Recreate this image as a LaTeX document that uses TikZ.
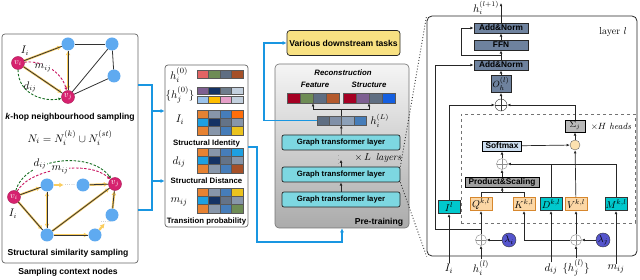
\documentclass[tikz,border=0pt]{standalone}
\usepackage{fontspec}
\usepackage{amsmath, amssymb}
\usetikzlibrary{arrows.meta, positioning, calc}
\newfontfamily\sfarial{Liberation Sans}

\definecolor{vmag}{RGB}{214, 34, 110}
\definecolor{nodeblue}{RGB}{95, 170, 240}
\definecolor{hopyel}{RGB}{250, 205, 95}
\definecolor{dmag}{RGB}{200, 20, 95}
\definecolor{dgreen}{RGB}{25, 110, 35}
\definecolor{linkblue}{RGB}{25, 150, 225}
\definecolor{gtlcyan}{RGB}{125, 215, 225}
\definecolor{taskyel}{RGB}{248, 225, 130}
\definecolor{anblue}{RGB}{110, 130, 158}
\definecolor{qkvfill}{RGB}{252, 215, 165}
\definecolor{qkvline}{RGB}{215, 135, 45}
\definecolor{dmcyan}{RGB}{0, 200, 205}
\definecolor{psgray}{RGB}{160, 160, 160}
\definecolor{softblue}{RGB}{205, 222, 240}
\definecolor{sigray}{RGB}{185, 185, 185}
\definecolor{dotfill}{RGB}{252, 225, 175}
\definecolor{lamblue}{RGB}{85, 85, 205}
% cell colours
\definecolor{cOr}{RGB}{230, 130, 50}
\definecolor{cGy}{RGB}{135, 150, 170}
\definecolor{cBl}{RGB}{70, 125, 185}
\definecolor{cOb}{RGB}{255, 110, 10}
\definecolor{cCy}{RGB}{30, 160, 225}
\definecolor{cNv}{RGB}{20, 50, 100}
\definecolor{cSl}{RGB}{100, 115, 135}
\definecolor{cYe}{RGB}{235, 195, 30}
\definecolor{cBr}{RGB}{165, 80, 40}
\definecolor{cGr}{RGB}{110, 140, 85}
\definecolor{hRd}{RGB}{225, 100, 100}
\definecolor{hSl}{RGB}{95, 110, 130}
\definecolor{hPu}{RGB}{125, 95, 145}
\definecolor{jSl}{RGB}{110, 125, 140}
\definecolor{jLt}{RGB}{195, 208, 222}
\definecolor{jLb}{RGB}{155, 195, 235}
\definecolor{jGd}{RGB}{255, 190, 0}
\definecolor{jPk}{RGB}{230, 160, 200}
\definecolor{fRd}{RGB}{165, 0, 35}
\definecolor{fOr}{RGB}{180, 90, 45}
\definecolor{sBl}{RGB}{20, 95, 225}
\definecolor{lSl}{RGB}{128, 144, 168}
\definecolor{lLt}{RGB}{140, 160, 184}

\newcommand{\cellrow}[5]{% x, y, cell width, cell height, colours
  \foreach \cc [count=\k from 0] in {#5}{%
    \filldraw[draw=black!65, line width=0.3pt, fill=\cc] ({#1+\k*#3},#2) rectangle ++(#3,#4);}}

\tikzset{
  vnode/.style={circle, fill=vmag, draw=vmag!80!black, minimum size=13pt, inner sep=0pt, text=white, font=\fontsize{9}{9}\selectfont},
  bnode/.style={circle, fill=nodeblue, minimum size=13pt, inner sep=0pt},
  gedge/.style={draw=black!80, line width=0.8pt},
  hop/.style={draw=hopyel, line width=2.2pt, -{Latex[length=4.5pt,width=5pt]}},
  hopboth/.style={draw=hopyel, line width=2.2pt, {Latex[length=4.5pt,width=5pt]}-{Latex[length=4.5pt,width=5pt]}},
  mdash/.style={draw=dmag, line width=0.9pt, dash pattern=on 2.5pt off 1.6pt, -{Latex[length=3pt,width=3pt]}},
  gdash/.style={draw=dgreen, line width=0.9pt, dash pattern=on 2.5pt off 1.6pt, -{Latex[length=3pt,width=3pt]}},
  panel/.style={draw=black!60, rounded corners=3pt, line width=0.7pt},
  labtxt/.style={font=\fontsize{7.8}{8}\selectfont\sfarial\bfseries, inner sep=1pt},
  biglab/.style={font=\fontsize{8.6}{9}\selectfont\sfarial\bfseries, inner sep=1pt},
  mathlab/.style={font=\fontsize{10.5}{11}\selectfont, inner sep=1pt},
  gtl/.style={draw=black!85, fill=gtlcyan, rounded corners=2pt, minimum width=118pt, minimum height=15pt, inner sep=0pt, line width=0.7pt, font=\fontsize{7.7}{8}\selectfont\sfarial\bfseries},
  task/.style={draw=black!85, fill=taskyel, rounded corners=3pt, minimum width=113pt, minimum height=25pt, inner sep=0pt, line width=0.7pt, font=\fontsize{8.6}{9}\selectfont\sfarial\bfseries},
  pretrain/.style={draw=black!55, rounded corners=4pt, top color=black!4, bottom color=black!33, line width=0.6pt},
  cellbar/.style={inner sep=0pt},
  anorm/.style={draw=black!85, fill=anblue, minimum width=54pt, minimum height=10pt, inner sep=0pt, line width=0.7pt, font=\fontsize{8.3}{9}\selectfont\sfarial\bfseries},
  qkv/.style={draw=qkvline, fill=qkvfill, minimum width=22pt, minimum height=13pt, inner sep=0pt, line width=0.8pt, font=\fontsize{10}{10}\selectfont},
  cyanbox/.style={qkv, draw=black!80, fill=dmcyan},
  psbox/.style={draw=black, fill=psgray, minimum width=74pt, minimum height=10pt, inner sep=0pt, line width=0.7pt, font=\fontsize{8.3}{9}\selectfont\sfarial\bfseries},
  softbox/.style={psbox, fill=softblue, minimum width=39pt},
  sigbox/.style={draw=black, fill=sigray, minimum width=20pt, minimum height=12pt, inner sep=0pt, line width=0.7pt, font=\fontsize{9}{9}\selectfont},
  opl/.style={circle, draw=#1, fill=white, minimum size=11pt, inner sep=0pt,
    path picture={\draw[#1] (path picture bounding box.north) -- (path picture bounding box.south)
      (path picture bounding box.west) -- (path picture bounding box.east);}},
  opl/.default=black!45,
  odotc/.style={circle, draw=black!60, fill=dotfill, minimum size=10pt, inner sep=0pt,
    path picture={\fill (path picture bounding box.center) circle (1pt);}},
  lam/.style={circle, draw=black!80, fill=lamblue, minimum size=14pt, inner sep=0pt, font=\fontsize{10}{10}\selectfont},
  inlab/.style={font=\fontsize{11}{11}\selectfont, inner sep=1pt},
  ln/.style={draw=black!85, line width=0.7pt},
  arr/.style={ln, ->},
  blink/.style={draw=linkblue, line width=1.2pt},
  blarr/.style={blink, -{Latex[length=4pt,width=4pt]}},
  zoomln/.style={draw=black!80, line width=0.9pt, dotted},
  headbox/.style={draw=black!55, dashed, line width=0.7pt}
}

\begin{document}
\begin{tikzpicture}[x=1pt, y=-1pt, >={Latex[length=3.2pt,width=2.8pt]}]
\useasboundingbox (0,0) rectangle (640,280);

% ---------------- sampling context nodes
\node[panel, minimum width=136pt, minimum height=229pt] (leftp) at (70,148.5) {};

% k-hop graph
\node[bnode] (ka) at (68,44) {};
\node[bnode] (kb) at (112,44) {};
\node[bnode] (kc) at (114,76) {};
\node[vnode] (vi) at (18,63) {$v_i$};
\node[vnode] (vj) at (68,97) {$v_j$};
\foreach \a/\b in {ka/kb, kb/kc, vj/kb, vj/kc} \draw[gedge] (\a) -- (\b);
\draw[hop] (vi) -- (ka);
\draw[hop] (vi) -- (vj);
\draw[hopboth] (ka) -- (vj);
\foreach \a/\b in {vi/ka, vi/vj, ka/vj} \draw[gedge] (\a) -- (\b);
\draw[gdash] (vi) .. controls (18,95) and (45,102) .. (vj);
\draw[mdash] (vi) .. controls (42,60) and (62,72) .. (vj);
\node[mathlab] (iia) at (25,51) {$I_i$};
\node[mathlab, fill=white, inner sep=0.3pt] (mija) at (43,68) {$m_{ij}$};
\node[mathlab] (dija) at (30,87) {$d_{ij}$};
\node[biglab] (khop) at (70,117) {\textit{k}-hop neighbourhood sampling};
\node[inlab] (nset) at (70,138) {$N_i=N_i^{(k)}\cup N_i^{(st)}$};

% structural similarity graph
\node[bnode] (sa) at (47,185) {};
\node[bnode] (sb) at (83,185) {};
\node[bnode] (sc) at (47,235) {};
\node[bnode] (sd) at (95,235) {};
\node[bnode] (se) at (112,215) {};
\node[vnode] (vi2) at (14,197) {$v_i$};
\node[vnode] (vj2) at (115,184) {$v_j$};
\node[font=\tiny, inner sep=1pt] (dotsa) at (70,185) {.....};
\node[font=\tiny, inner sep=1pt] (dotsb) at (106,222) {.....};
\draw[hop] (vi2) -- (sa);
\draw[hop] (vi2) -- (sc);
\draw[hopboth] (sa) -- (sc);
\draw[hop] (sc) -- (sd);
\draw[hop] (sc) -- (vj2);
\draw[hop] (sb) -- (vj2);
\draw[hop] (se) -- (vj2);
\draw[hop] (sa) -- (dotsa);
\draw[hop] (sd) -- (dotsb);
\foreach \a/\b in {vi2/sa, vi2/sc, sa/sc, sc/sd, sc/vj2, sb/vj2, se/vj2} \draw[gedge] (\a) -- (\b);
\draw[gdash] (vi2) .. controls (25,158) and (90,150) .. (vj2);
\draw[mdash] (vi2) .. controls (30,168) and (90,160) .. (vj2);
\node[mathlab, fill=white, inner sep=0.3pt] (dijb) at (40,164) {$d_{ij}$};
\node[mathlab, fill=white, inner sep=0.3pt] (mijb) at (60,170) {$m_{ij}$};
\node[mathlab] (iib) at (13,214) {$I_i$};
\node[biglab] (ssim) at (68,253) {Structural similarity sampling};
\node[biglab] (sctx) at (68,272) {Sampling context nodes};

% ---------------- input features
\node[panel, minimum width=83pt, minimum height=162pt] (midp) at (206.5,146) {};
\node[inlab] (h0) at (179,75) {$h_i^{(0)}$};
\node[inlab] (hj0) at (180,95) {$\{h_j^{(0)}\}$};
\node[inlab] (idl) at (180,120) {$I_i$};
\node[inlab] (dl) at (179,162) {$d_{ij}$};
\node[inlab] (ml) at (179,202) {$m_{ij}$};
\cellrow{197}{70}{11.5}{8}{hRd,cGr,hSl,cBr}
\cellrow{197}{87}{11.5}{7.5}{hPu,cNv,jSl,jLt}
\cellrow{197}{96}{11.5}{7.5}{jLb,jGd,jPk,jLt}
\foreach \yy/\ca/\cb in {110/cOb/cYe, 148/cCy/cBr, 188/cYe/cGr}{
  \cellrow{197}{\yy}{11.5}{8.3}{cOr,cGy,cBl,\ca}
  \cellrow{197}{\yy+8.3}{11.5}{8.3}{cCy,cNv,cSl,cGy}
  \cellrow{197}{\yy+16.6}{11.5}{8.3}{cOr,cGy,cBl,\cb}
}
\node[labtxt] (sid) at (206.5,143) {Structural Identity};
\node[labtxt] (sdi) at (206.5,181) {Structural Distance};
\node[labtxt] (stp) at (206.5,221) {Transition probability};

% ---------------- pre-training
\node[task] (task) at (343.5,43) {Various downstream tasks};
\node[pretrain, minimum width=134pt, minimum height=164pt] (pre) at (342,146) {};
\node[labtxt, font=\fontsize{7.8}{8}\selectfont\sfarial\bfseries\itshape] (rec) at (343,73) {Reconstruction};
\node[labtxt, font=\fontsize{7.8}{8}\selectfont\sfarial\bfseries\itshape] (feal) at (315,85) {Feature};
\node[labtxt, font=\fontsize{7.8}{8}\selectfont\sfarial\bfseries\itshape] (strl) at (369,85) {Structure};
\node[cellbar, minimum width=52pt, minimum height=10pt] (feat) at (313,98) {};
\cellrow{287}{93}{13}{10}{fRd,cGr,hSl,fOr}
\node[cellbar, minimum width=52pt, minimum height=10pt] (struc) at (369,98) {};
\cellrow{343}{93}{13}{10}{fRd,hPu,hSl,sBl}
\node[cellbar, minimum width=49pt, minimum height=9pt] (hL) at (341.5,120.5) {};
\cellrow{317}{116}{12.25}{9}{hSl,lSl,lLt,cBl}
\node[mathlab, right=3pt of hL] (hLl) {$h_i^{(L)}$};
\coordinate (split) at ($(hL.north)+(0,-6)$);
\draw[ln] (hL.north) -- (split);
\draw[arr] (split) -| (feat.south);
\draw[arr] (split) -| (struc.south);

\node[gtl] (gtlc) at (341,142.5) {Graph transformer layer};
\node[gtl] (gtlb) at (341,174.5) {Graph transformer layer};
\node[gtl] (gtla) at (341,199.5) {Graph transformer layer};
\node[font=\fontsize{5}{5}\selectfont, inner sep=0pt] (vd) at (339,157) {$\vdots$};
\node[mathlab, font=\fontsize{10}{10}\selectfont] (lays) at (378,158) {$\times\, L$\, \textit{layers}};
\draw[arr] (gtla) -- (gtlb);
\draw[arr] (gtlb.north) -- ++(0,-7) coordinate (vdend);
\draw[arr] (gtlc) -- (hL);
\node[biglab] (ptl) at (379,222) {Pre-training};

% ---------------- graph transformer layer l
\node[draw=black!85, rounded corners=5pt, line width=0.8pt, minimum width=210pt, minimum height=240pt] (layerp) at (532,136) {};
\draw[zoomln] (gtlb.north east) -- (layerp.north west);
\draw[zoomln] (gtlb.south east) -- (layerp.south west);
\node[inlab, font=\fontsize{10}{10}\selectfont] (layl) at (613,32) {layer $l$};
\node[headbox, minimum width=174pt, minimum height=109pt] (heads) at (548,168.5) {};

\node[anorm] (an2) at (501,28) {Add\&Norm};
\node[anorm] (ffn) at (501,45) {FFN};
\node[anorm] (an1) at (501,65) {Add\&Norm};
\node[anorm, minimum width=20pt, minimum height=17pt, font=\fontsize{9.5}{9}\selectfont] (oh) at (501,84) {$O_h^{(l)}$};
\node[opl=black!80, minimum size=12pt] (addo) at (501,105) {};
\coordinate (outtop) at (501,3);
\node[mathlab] (hout) at (486,8) {$h_i^{(l+1)}$};
\draw[arr] (addo) -- (oh);
\draw[arr] (oh) -- (an1);
\draw[arr] (an1) -- (ffn);
\draw[arr] (ffn) -- (an2);
\draw[arr] (an2) -- (outtop);
\coordinate (r1) at ($(an1.north)!0.5!(ffn.south)$);
\draw[arr] (r1) -- ++(-40,0) |- (an2.west);

\node[sigbox] (sig) at (575,126) {$\Sigma_j$};
\node[font=\fontsize{9}{9}\selectfont, inner sep=1pt] (hh) at (611,127) {$\times H$ \textit{heads}};
\node[odotc] (dot) at (575,145) {};
\node[softbox] (soft) at (502,146) {Softmax};
\node[opl] (adds) at (502,164) {};
\node[psbox] (ps) at (502,182) {Product\&Scaling};
\node[qkv] (q) at (481,204) {$Q^{k,l}$};
\node[qkv] (k) at (524,204) {$K^{k,l}$};
\node[cyanbox] (d) at (551,204) {$D^{k,l}$};
\node[qkv] (v) at (576,204) {$V^{k,l}$};
\node[cyanbox] (m) at (616,204) {$M^{k,l}$};
\node[cyanbox] (il) at (449,207) {$I^l$};

\draw[arr] (sig) |- (addo);
\draw[arr] (dot) -- (sig);
\draw[arr] (soft) -- (dot);
\draw[arr] (adds) -- (soft);
\draw[arr] (ps) -- (adds);
\draw[ln] (q.north) -- ++(0,-5) -| (k.north);
\draw[arr] ($(q.north)!0.5!(k.north)+(0,-5)$) -- (ps.south);
\draw[arr] (m.north) |- (adds.east);
\draw[ln] (d.north) -- (d.north |- adds.east);
\draw[arr] (v) -- (dot);
\draw[arr] (il) |- (addo);

% inputs
\node[opl] (addq) at (481,240) {};
\node[lam] (lami) at (509,240) {$\lambda_i$};
\node[opl] (addj) at (576,240) {};
\node[lam] (lamj) at (603,240) {$\lambda_j$};
\node[inlab] (ii) at (449,269) {$I_i$};
\node[inlab] (hil) at (481,268) {$h_i^{(l)}$};
\node[inlab] (dij) at (551,269) {$d_{ij}$};
\node[inlab] (hjl) at (576,268) {$\{h_j^{(l)}\}$};
\node[inlab] (mij) at (616,269) {$m_{ij}$};
\draw[arr] (ii) -- (il);
\draw[arr] (hil) -- (addq);
\draw[arr] (lami) -- (addq);
\draw[arr] (addq) -- (q);
\draw[arr] (hjl) -- (addj);
\draw[arr] (lamj) -- (addj);
\draw[arr] (addj) -- (v);
\draw[arr] (addj) -| (k);
\draw[arr] (dij) -- (d);
\draw[arr] (mij) -- (m);
\coordinate (r2) at (481,229);
\draw[arr] (r2) -- ++(-46,0) |- (an1.west);

% ---------------- blue links
\draw[blink] (leftp.east |- 0,85) -- (152,85) -- (152,210) -- (leftp.east |- 0,210);
\draw[blarr] (152,111) -- (midp.west |- 0,111);
\draw[blarr] (152,181) -- (midp.west |- 0,181);
\draw[blarr] (midp.east |- 0,147) -- (257,147) -- (257,242) -| (pre.south);
\draw[blarr] (hL.west) -- (hL.west -| 264,0) |- (task.west);
\end{tikzpicture}
\end{document}
